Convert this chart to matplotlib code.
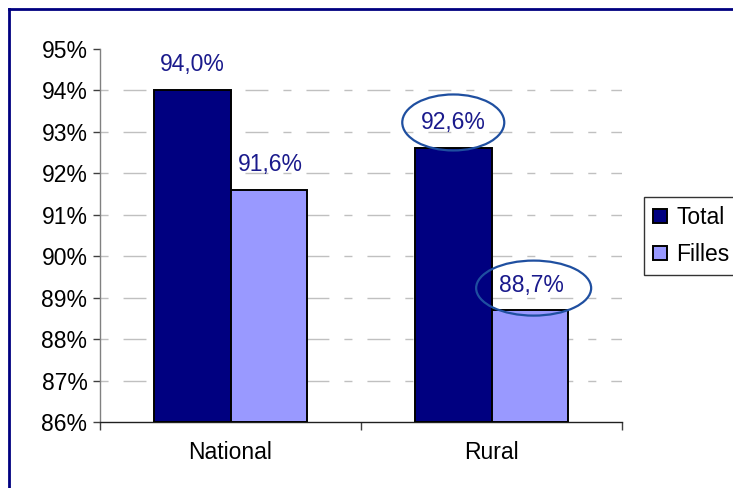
import matplotlib
matplotlib.use("Agg")
import matplotlib.pyplot as plt
from matplotlib.patches import Ellipse
from matplotlib.lines import Line2D
import numpy as np

plt.rcParams['font.family'] = ['Liberation Sans', 'DejaVu Sans']
plt.rcParams['lines.scale_dashes'] = False

categories = ["National", "Rural"]
series_names = ["Total", "Filles"]
total = [94.0, 92.6]
filles = [91.6, 88.7]
labels_total = ["94,0%", "92,6%"]
labels_filles = ["91,6%", "88,7%"]
yticks = [86, 87, 88, 89, 90, 91, 92, 93, 94, 95]
ytick_labels = ["86%", "87%", "88%", "89%", "90%", "91%", "92%", "93%", "94%", "95%"]
circled = [(1, "Total"), (1, "Filles")]

W, H = 733, 488
FS = 16.5
fig = plt.figure(figsize=(W / 100, H / 100), dpi=100)
ax = fig.add_axes([100 / W, 1 - 422 / H, (622 - 100) / W, (422 - 49) / H])

x = np.arange(len(categories))
bw = 0.293
c_total = "#000080"
c_filles = "#9999FF"
lab_col = "#1A1A8C"

ax.bar(x - bw / 2, [v - 86 for v in total], bw, bottom=86, color=c_total,
       edgecolor="black", linewidth=1.4, zorder=3, label="Total")
ax.bar(x + bw / 2, [v - 86 for v in filles], bw, bottom=86, color=c_filles,
       edgecolor="black", linewidth=1.4, zorder=3, label="Filles")

ax.set_xlim(-0.5, 1.5)
ax.set_ylim(86, 95)
ax.set_yticks(yticks)
ax.set_yticklabels(ytick_labels, fontsize=FS)
ax.set_xticks(x)
ax.set_xticklabels(categories, fontsize=FS)
ax.tick_params(axis='x', which='major', length=0, pad=14)
ax.set_xticks([-0.5, 0.5, 1.5], minor=True)
ax.tick_params(axis='x', which='minor', length=6, color="#404040", width=1)
ax.tick_params(axis='y', length=5, color="#404040", width=1, pad=4)

for s in ["top", "right"]:
    ax.spines[s].set_visible(False)
ax.spines["left"].set_color("#808080")
ax.spines["bottom"].set_color("#202020")
ax.spines["left"].set_linewidth(1)
ax.spines["bottom"].set_linewidth(1)

for yv in yticks[1:-1]:
    gl = Line2D([-0.5, 1.5], [yv, yv], color="#C0C0C0", linewidth=1, zorder=1)
    gl.set_dashes([5.8, 10.8, 16.5, 10.8])
    ax.add_line(gl)

px = 9 / (422 - 49)  # data units per pixel vertically
for i in range(len(categories)):
    ax.text(x[i] - bw / 2, total[i] + 26 * px, labels_total[i], ha="center", va="center",
            fontsize=FS, color=lab_col, zorder=5)
    ax.text(x[i] + bw / 2 + 0.005, filles[i] + 25 * px, labels_filles[i], ha="center", va="center",
            fontsize=FS, color=lab_col, zorder=5)

xpx = 2 / (622 - 100)
for i, name in circled:
    if name == "Total":
        cx, cy, w, h = x[i] - bw / 2, total[i] + 26 * px, 102 * xpx, 56 * px
    else:
        cx, cy, w, h = x[i] + bw / 2 + 0.015, filles[i] + 22 * px, 115 * xpx, 55 * px
    ax.add_patch(Ellipse((cx, cy), w, h, fill=False, edgecolor="#1F4FA0",
                         linewidth=1.6, zorder=6, clip_on=False))

leg = ax.legend(loc="upper left", bbox_to_anchor=(644 / W, 1 - 197 / H), bbox_transform=fig.transFigure,
                fontsize=FS, frameon=True, fancybox=False, edgecolor="black",
                handlelength=0.6, handleheight=0.6, handletextpad=0.4, borderpad=0.4,
                labelspacing=0.6, borderaxespad=0)
leg.get_frame().set_linewidth(1)

# figure border (top and left)
fig.add_artist(Line2D([9 / W, 9 / W], [0, 1 - 9 / H], color="#000080", linewidth=2,
                      transform=fig.transFigure))
fig.add_artist(Line2D([9 / W, 1], [1 - 9 / H, 1 - 9 / H], color="#000080", linewidth=2,
                      transform=fig.transFigure))

fig.savefig("out.png", dpi=100)
